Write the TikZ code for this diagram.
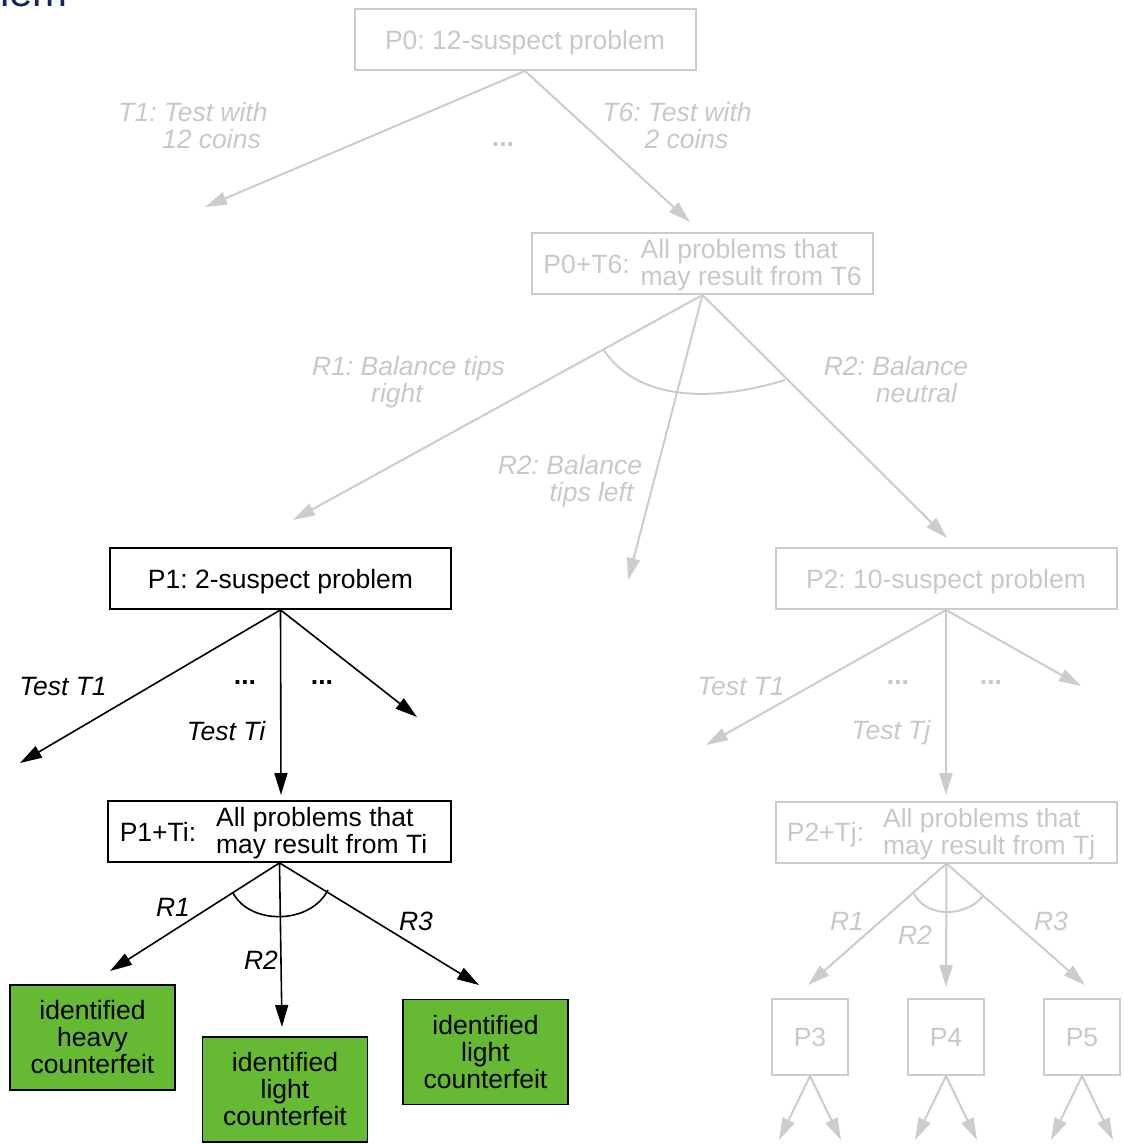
\documentclass[tikz,border=0pt]{standalone}
\usepackage{fontspec}
\setmainfont{Liberation Sans}
\usetikzlibrary{arrows.meta}
\definecolor{lightg}{RGB}{204,204,204}
\definecolor{lightt}{RGB}{200,200,200}
\definecolor{leafgreen}{RGB}{102,185,50}
\definecolor{navy}{RGB}{25,35,100}
\tikzset{
  basefont/.style={font=\fontsize{26.5}{27}\selectfont, inner sep=0pt},
  blackbox/.style={basefont, draw=black, line width=1.8pt, minimum width=341pt, minimum height=61pt, text height=19pt, text depth=0pt},
  graybox/.style={basefont, draw=lightg, text=lightt, line width=2pt, minimum width=341pt, minimum height=61pt, text height=19pt, text depth=0pt},
  greenbox/.style={basefont, draw=black, fill=leafgreen, line width=1.8pt, align=center, minimum width=165pt, minimum height=105pt},
  smallbox/.style={basefont, draw=lightg, text=lightt, line width=2pt, minimum width=76pt, minimum height=76pt, text height=19pt, text depth=0pt},
  blab/.style={basefont, font=\fontsize{26.5}{27}\selectfont\itshape, align=center},
  glab/.style={blab, text=lightt},
  bdots/.style={basefont, font=\fontsize{26.5}{27}\selectfont\bfseries},
  gdots/.style={bdots, text=lightt},
  barrow/.style={draw=black, line width=1.6pt, -{Triangle[length=22pt,width=13pt]}},
  garrow/.style={draw=lightg, line width=2pt, -{Triangle[length=22pt,width=13pt]}},
  barc/.style={draw=black, line width=1.6pt},
  garc/.style={draw=lightg, line width=2pt},
}
\begin{document}
\frenchspacing
\begin{tikzpicture}[x=1pt,y=-1pt]
\useasboundingbox (0,0) rectangle (1124,1144);

% clipped title
\node[anchor=base east, inner sep=0pt, text=navy, font=\fontsize{42}{44}\selectfont] (title) at (68,6) {problem};

% ---- top (gray) ----
\node[graybox] (P0) at (525,39.5) {P0: 12-suspect problem};
\coordinate (t1end) at (205,207);
\coordinate (t6end) at (690,222);
\draw[garrow] (P0.south) -- (t1end);
\draw[garrow] (P0.south) -- (t6end);
\node[glab] (t1lab) at (193,126) {T1: Test with\\\hspace*{37pt}12 coins};
\node[glab] (t6lab) at (677,126) {T6: Test with\\\hspace*{19pt}2 coins};
\node[gdots] (d0) at (503,145) {...};

\node[graybox] (P0T6) at (702.5,263.5) {P0+T6:\hspace{11pt}\begin{tabular}{@{}l@{}}All problems that\\may result from T6\end{tabular}};
\coordinate (r1end) at (293,520);
\coordinate (r2lend) at (628,580);
\coordinate (r2nend) at (947,538);
\draw[garrow] (P0T6.south) -- (r1end);
\draw[garrow] (P0T6.south) -- (r2lend);
\draw[garrow] (P0T6.south) -- (r2nend);
\draw[garc] (603,349) .. controls (640,405) and (720,400) .. (785,380);
\node[glab] (r1lab) at (408.5,382.5) {R1: Balance tips\\right\hspace*{23pt}};
\node[glab] (r2nlab) at (896,379.5) {R2: Balance\\\hspace*{41pt}neutral};
\node[glab] (r2llab) at (570,481) {R2: Balance\\\hspace*{43pt}tips left};

% ---- left (black) ----
\node[blackbox] (P1) at (280.5,578.5) {P1: 2-suspect problem};
\coordinate (p1a) at (20,763);
\coordinate (p1b) at (281,795);
\coordinate (p1c) at (417,717);
\draw[barrow] (P1.south) -- (p1a);
\draw[barrow] (P1.south) -- (p1b);
\draw[barrow] (P1.south) -- (p1c);
\node[blab] (tt1) at (63,687) {Test T1};
\node[blab] (tti) at (226,731) {Test Ti};
\node[bdots] (d1) at (245,683) {...};
\node[bdots] (d2) at (322,683) {...};

\node[blackbox, minimum width=343pt] (P1Ti) at (279.5,831.5) {P1+Ti:\hspace{20pt}\begin{tabular}{@{}l@{}}All problems that\\may result from Ti\end{tabular}\kern12pt};
\coordinate (q1) at (110,971);
\coordinate (q2) at (282,1027);
\coordinate (q3) at (479,985);
\draw[barrow] (P1Ti.south) -- (q1);
\draw[barrow] (P1Ti.south) -- (q2);
\draw[barrow] (P1Ti.south) -- (q3);
\draw[barc] (233,893) .. controls (250,925) and (310,925) .. (328,890);
\node[blab] (lr1) at (173,907) {R1};
\node[blab] (lr2) at (261,960) {R2};
\node[blab] (lr3) at (416,921) {R3};

\node[greenbox] (G1) at (92.5,1037.5) {identified\\heavy\\counterfeit};
\node[greenbox] (G2) at (285,1089.5) {identified\\light\\counterfeit};
\node[greenbox] (G3) at (485.5,1052) {identified\\light\\counterfeit};

% ---- right (gray) ----
\node[graybox] (P2) at (946,578.5) {P2: 10-suspect problem};
\coordinate (p2a) at (706,745);
\coordinate (p2b) at (946,795);
\coordinate (p2c) at (1081,686);
\draw[garrow] (P2.south) -- (p2a);
\draw[garrow] (P2.south) -- (p2b);
\draw[garrow] (P2.south) -- (p2c);
\node[glab] (gt1) at (741,687) {Test T1};
\node[glab] (gtj) at (891,733) {Test Tj};
\node[gdots] (d3) at (898,683) {...};
\node[gdots] (d4) at (991,683) {...};

\node[graybox] (P2Tj) at (946.5,832) {P2+Tj:\hspace{19pt}\begin{tabular}{@{}l@{}}All problems that\\may result from Tj\end{tabular}\kern11pt};
\coordinate (s1) at (808,985);
\coordinate (s2) at (946,987);
\coordinate (s3) at (1085,985);
\draw[garrow] (P2Tj.south) -- (s1);
\draw[garrow] (P2Tj.south) -- (s2);
\draw[garrow] (P2Tj.south) -- (s3);
\draw[garc] (913,892) .. controls (925,918) and (965,918) .. (983,896);
\node[glab] (gr1) at (847,921) {R1};
\node[glab] (gr2) at (915,935) {R2};
\node[glab] (gr3) at (1051,921) {R3};

\node[smallbox] (P3) at (810,1037) {P3};
\node[smallbox] (P4) at (946,1037) {P4};
\node[smallbox] (P5) at (1082,1037) {P5};
\coordinate (u1) at (779,1140);
\coordinate (u2) at (841,1140);
\coordinate (u3) at (915,1140);
\coordinate (u4) at (977,1140);
\coordinate (u5) at (1051,1140);
\coordinate (u6) at (1113,1140);
\draw[garrow] (P3.south) -- (u1);
\draw[garrow] (P3.south) -- (u2);
\draw[garrow] (P4.south) -- (u3);
\draw[garrow] (P4.south) -- (u4);
\draw[garrow] (P5.south) -- (u5);
\draw[garrow] (P5.south) -- (u6);
\end{tikzpicture}
\end{document}
